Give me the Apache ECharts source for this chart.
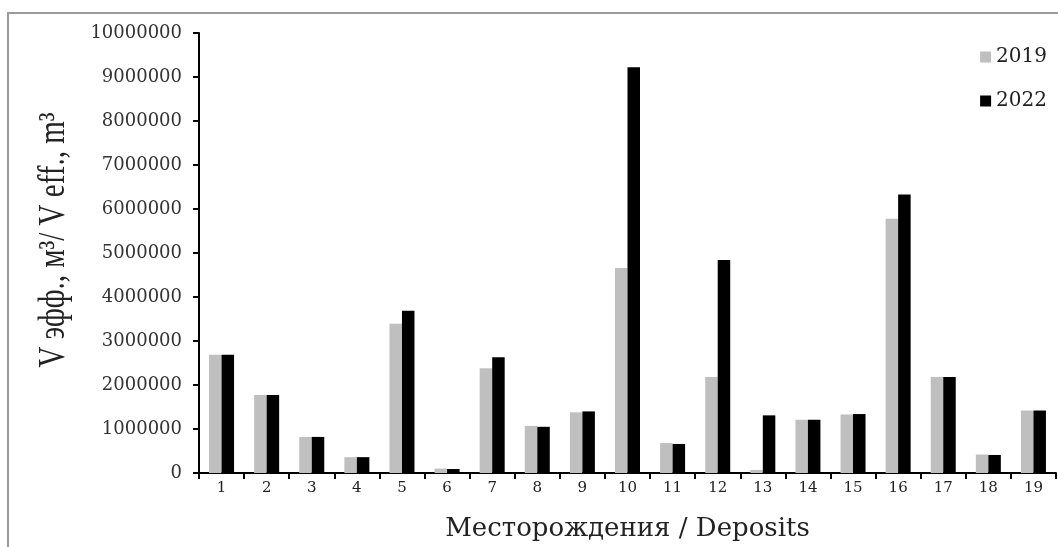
<!DOCTYPE html>
<html>
<head>
<meta charset="utf-8">
<script src="https://cdn.jsdelivr.net/npm/echarts@6/dist/echarts.min.js"></script>
<style>html,body{margin:0;padding:0;background:#fff;}#chart{width:1058px;height:547px;}</style>
</head>
<body>
<div id="chart"></div>
<script>
const categories = ['1','2','3','4','5','6','7','8','9','10','11','12','13','14','15','16','17','18','19'];
const values2019 = [2690000,1770000,820000,360000,3390000,100000,2380000,1070000,1380000,4660000,680000,2180000,70000,1210000,1330000,5780000,2180000,420000,1420000];
const values2022 = [2690000,1770000,820000,360000,3690000,90000,2630000,1050000,1400000,9220000,660000,4840000,1310000,1210000,1340000,6330000,2180000,410000,1420000];
const seriesNames = ['2019','2022'];
const yTitle = 'V эфф., м³/ V eff., m³';
const xTitle = 'Месторождения / Deposits';

const wide = 'DejaVu Serif';
const chart = echarts.init(document.getElementById('chart'));
chart.setOption({
  animation: false,
  backgroundColor: '#fff',
  graphic: [
    {type: 'rect', shape: {x: 8, y: 13, width: 1200, height: 700},
     style: {fill: 'none', stroke: '#9a9a9a', lineWidth: 2}, silent: true, z: -1},
    {type: 'text', x: 54, y: 240, rotation: Math.PI / 2, scaleY: 1.3,
     style: {text: yTitle, font: '29px "Liberation Serif"', fill: '#222', align: 'center', verticalAlign: 'middle'}}
  ],
  grid: {left: 199, right: 2, top: 33, bottom: 63, containLabel: false},
  legend: {
    orient: 'vertical', right: 6, top: 42,
    itemWidth: 11, itemHeight: 11, itemGap: 24,
    icon: 'rect',
    textStyle: {fontFamily: wide, fontSize: 20, color: '#222'},
    data: seriesNames
  },
  xAxis: {
    type: 'category', data: categories,
    name: xTitle, nameLocation: 'middle', nameGap: 43,
    nameTextStyle: {fontFamily: wide, fontSize: 26, color: '#222'},
    axisLine: {lineStyle: {color: '#000', width: 2}},
    axisTick: {show: true, length: 6, lineStyle: {color: '#000', width: 2}, alignWithLabel: false},
    axisLabel: {fontFamily: wide, fontSize: 15, color: '#222', margin: 8}
  },
  yAxis: {
    type: 'value', min: 0, max: 10000000, interval: 1000000,
    axisLine: {show: true, lineStyle: {color: '#000', width: 2}},
    axisTick: {show: true, length: 6, lineStyle: {color: '#000', width: 2}},
    splitLine: {show: false},
    axisLabel: {fontFamily: wide, fontSize: 18, color: '#333', margin: 17,
                formatter: function (v) { return String(v); }}
  },
  series: [
    {name: seriesNames[0], type: 'bar', data: values2019, barWidth: 12.5, barGap: '0%',
     itemStyle: {color: '#bfbfbf'}},
    {name: seriesNames[1], type: 'bar', data: values2022, barWidth: 12.5, barGap: '0%',
     itemStyle: {color: '#000000'}}
  ]
});
</script>
</body>
</html>
